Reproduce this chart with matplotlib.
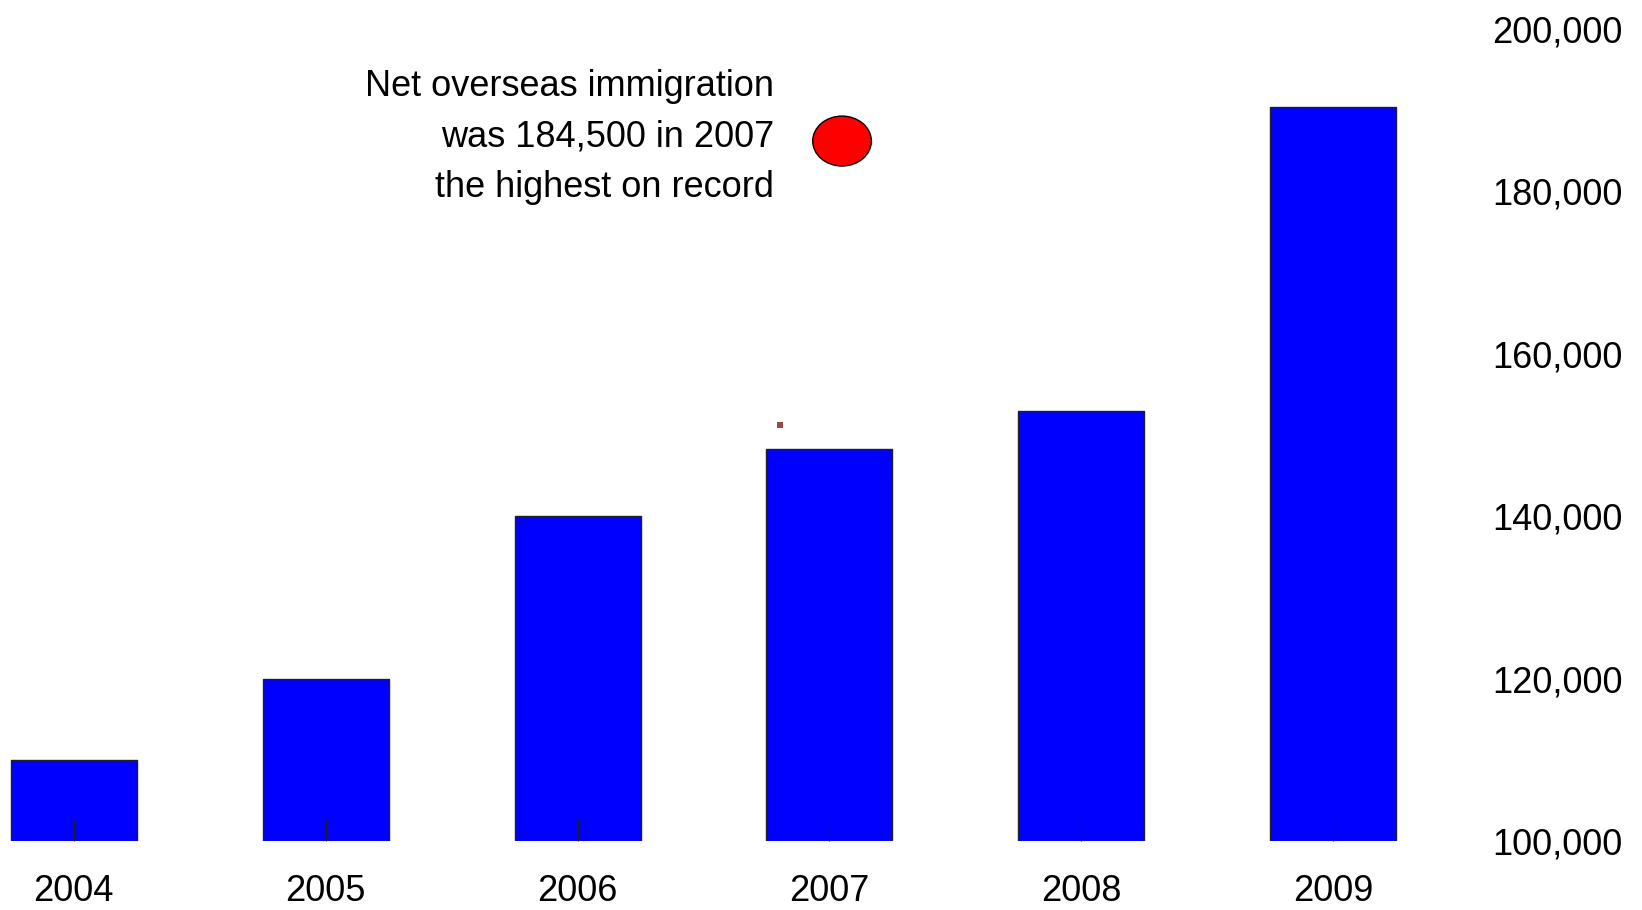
import matplotlib.pyplot as plt
from matplotlib.patches import Ellipse
from matplotlib.ticker import FuncFormatter

years = ['2004', '2005', '2006', '2007', '2008', '2009']
net_migration = [110000, 120000, 140000, 148250, 153000, 190400]

note_lines = ['Net overseas immigration', 'was 184,500 in 2007', 'the highest on record']
record_year = 3        # index of 2007
record_mark = 186200   # where the red dot sits

# no narrow Arial here, so a regular sans at a smaller size
font = ['Liberation Sans Narrow', 'Liberation Sans', 'DejaVu Sans']
plt.rcParams['font.family'] = font
fs = 26

fig = plt.figure(figsize=(16.42, 9.10), dpi=100)
ax = fig.add_axes([0.0, 1 - 841 / 910, 1470 / 1642, (841 - 29) / 910])

x = list(range(len(years)))
ax.bar(x, net_migration, width=0.5, color='#0000ff', edgecolor='#202020',
       linewidth=1.0, zorder=1)

ax.set_ylim(100000, 200000)
ax.set_xlim(-0.293, 5.543)
ax.set_yticks(range(100000, 200001, 20000))
ax.yaxis.set_major_formatter(FuncFormatter(lambda v, p: f'{int(v):,}'))
ax.yaxis.tick_right()
ax.tick_params(axis='y', length=0, pad=16, labelsize=fs)

ax.set_xticks(x)
ax.set_xticklabels(years)
ax.tick_params(axis='x', direction='in', length=16, width=0.8, color='#202020',
               labelsize=fs, pad=24)
for t in ax.xaxis.get_major_ticks():
    t.tick1line.set_zorder(5)
ax.set_axisbelow(False)

for s in ax.spines.values():
    s.set_visible(False)

# red dot marking the record
ax.add_patch(Ellipse((record_year + 0.05, record_mark), width=0.233, height=6150,
                     facecolor='#ff0000', edgecolor='black', linewidth=1.0, zorder=3))
# small stray marker
ax.plot([2.805], [151200], marker='s', markersize=4, color='#a04848',
        markeredgewidth=0, zorder=3)

ax.text(2.78, 186740, '\n'.join(note_lines), ha='right', va='center',
        fontsize=fs, linespacing=1.58, color='black')

fig.savefig('out.png', dpi=100)
